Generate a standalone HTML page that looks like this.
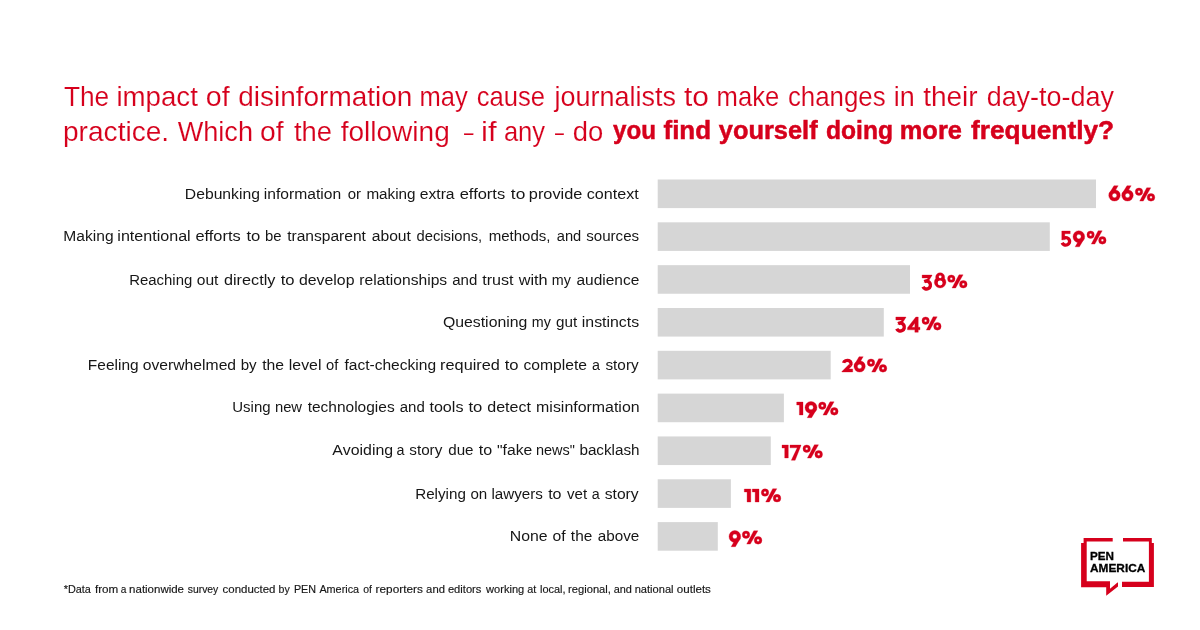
<!DOCTYPE html>
<html><head><meta charset="utf-8"><title>PEN America survey chart</title>
<style>
html,body{margin:0;padding:0;background:#fff;}
body{width:1200px;height:630px;overflow:hidden;font-family:"Liberation Sans",sans-serif;}
svg{display:block;will-change:transform;}
text{font-family:"Liberation Sans",sans-serif;}
.t{fill:#d6001c;}
.tr{stroke:#fff;stroke-width:0.14px;paint-order:fill stroke;}
.tb{stroke:#d6001c;stroke-width:0.5px;}
.l{fill:#161616;font-size:15.4px;}
.f{fill:#161616;font-size:10.9px;stroke:#161616;stroke-width:0.15px;}
.v{fill:#d6001c;font-weight:bold;font-size:20px;stroke:#d6001c;stroke-width:0.7px;}
.g{fill:#000;font-weight:bold;font-size:11.7px;stroke:#000;stroke-width:0.3px;}
</style></head><body>
<svg width="1200" height="630" viewBox="0 0 1200 630">
<rect width="1200" height="630" fill="#ffffff"/>
<g class="t tr" font-size="27.5" font-weight="normal">
<text x="63.91" y="105.8" textLength="45.26" lengthAdjust="spacingAndGlyphs">The</text>
<text x="116.45" y="105.8" textLength="81.45" lengthAdjust="spacingAndGlyphs">impact</text>
<text x="205.80" y="105.8" textLength="23.86" lengthAdjust="spacingAndGlyphs">of</text>
<text x="238.33" y="105.8" textLength="173.99" lengthAdjust="spacingAndGlyphs">disinformation</text>
<text x="419.43" y="105.8" textLength="48.32" lengthAdjust="spacingAndGlyphs">may</text>
<text x="476.71" y="105.8" textLength="68.33" lengthAdjust="spacingAndGlyphs">cause</text>
<text x="554.56" y="105.8" textLength="121.42" lengthAdjust="spacingAndGlyphs">journalists</text>
<text x="684.05" y="105.8" textLength="24.91" lengthAdjust="spacingAndGlyphs">to</text>
<text x="716.60" y="105.8" textLength="62.74" lengthAdjust="spacingAndGlyphs">make</text>
<text x="787.90" y="105.8" textLength="97.73" lengthAdjust="spacingAndGlyphs">changes</text>
<text x="893.80" y="105.8" textLength="20.95" lengthAdjust="spacingAndGlyphs">in</text>
<text x="923.18" y="105.8" textLength="54.49" lengthAdjust="spacingAndGlyphs">their</text>
<text x="986.67" y="105.8" textLength="127.28" lengthAdjust="spacingAndGlyphs">day-to-day</text>
</g>
<g class="t tr" font-size="27.5" font-weight="normal">
<text x="62.99" y="140.7" textLength="106.18" lengthAdjust="spacingAndGlyphs">practice.</text>
<text x="177.68" y="140.7" textLength="75.28" lengthAdjust="spacingAndGlyphs">Which</text>
<text x="260.11" y="140.7" textLength="23.54" lengthAdjust="spacingAndGlyphs">of</text>
<text x="293.89" y="140.7" textLength="38.03" lengthAdjust="spacingAndGlyphs">the</text>
<text x="340.70" y="140.7" textLength="109.10" lengthAdjust="spacingAndGlyphs">following</text>
<text x="464.00" y="140.7" textLength="9.41" lengthAdjust="spacingAndGlyphs">–</text>
<text x="481.10" y="140.7" textLength="15.54" lengthAdjust="spacingAndGlyphs">if</text>
<text x="503.89" y="140.7" textLength="41.24" lengthAdjust="spacingAndGlyphs">any</text>
<text x="555.00" y="140.7" textLength="8.91" lengthAdjust="spacingAndGlyphs">–</text>
<text x="572.85" y="140.7" textLength="30.50" lengthAdjust="spacingAndGlyphs">do</text>
</g>
<g class="t tb" font-size="26" font-weight="bold">
<text x="612.95" y="138.7" textLength="43.00" lengthAdjust="spacingAndGlyphs">you</text>
<text x="663.51" y="138.7" textLength="47.55" lengthAdjust="spacingAndGlyphs">find</text>
<text x="718.75" y="138.7" textLength="98.85" lengthAdjust="spacingAndGlyphs">yourself</text>
<text x="825.94" y="138.7" textLength="67.06" lengthAdjust="spacingAndGlyphs">doing</text>
<text x="899.77" y="138.7" textLength="62.14" lengthAdjust="spacingAndGlyphs">more</text>
<text x="971.00" y="138.7" textLength="143.16" lengthAdjust="spacingAndGlyphs">frequently?</text>
</g>
<rect x="657.7" y="179.50" width="438.3" height="28.6" fill="#d6d6d6"/>
<rect x="657.7" y="222.32" width="392.1" height="28.6" fill="#d6d6d6"/>
<rect x="657.7" y="265.15" width="252.3" height="28.6" fill="#d6d6d6"/>
<rect x="657.7" y="307.98" width="226.1" height="28.6" fill="#d6d6d6"/>
<rect x="657.7" y="350.80" width="173.0" height="28.6" fill="#d6d6d6"/>
<rect x="657.7" y="393.62" width="126.2" height="28.6" fill="#d6d6d6"/>
<rect x="657.7" y="436.45" width="113.1" height="28.6" fill="#d6d6d6"/>
<rect x="657.7" y="479.28" width="73.2" height="28.6" fill="#d6d6d6"/>
<rect x="657.7" y="522.10" width="60.1" height="28.6" fill="#d6d6d6"/>
<g class="l">
<text x="184.86" y="198.8" textLength="75.00" lengthAdjust="spacingAndGlyphs">Debunking</text>
<text x="263.85" y="198.8" textLength="77.26" lengthAdjust="spacingAndGlyphs">information</text>
<text x="347.77" y="198.8" textLength="13.33" lengthAdjust="spacingAndGlyphs">or</text>
<text x="366.39" y="198.8" textLength="49.20" lengthAdjust="spacingAndGlyphs">making</text>
<text x="419.73" y="198.8" textLength="34.87" lengthAdjust="spacingAndGlyphs">extra</text>
<text x="459.70" y="198.8" textLength="45.50" lengthAdjust="spacingAndGlyphs">efforts</text>
<text x="510.89" y="198.8" textLength="14.44" lengthAdjust="spacingAndGlyphs">to</text>
<text x="528.85" y="198.8" textLength="53.48" lengthAdjust="spacingAndGlyphs">provide</text>
<text x="586.71" y="198.8" textLength="52.00" lengthAdjust="spacingAndGlyphs">context</text>
<text x="63.37" y="240.8" textLength="50.23" lengthAdjust="spacingAndGlyphs">Making</text>
<text x="117.32" y="240.8" textLength="73.35" lengthAdjust="spacingAndGlyphs">intentional</text>
<text x="195.45" y="240.8" textLength="45.24" lengthAdjust="spacingAndGlyphs">efforts</text>
<text x="246.40" y="240.8" textLength="13.90" lengthAdjust="spacingAndGlyphs">to</text>
<text x="264.94" y="240.8" textLength="16.57" lengthAdjust="spacingAndGlyphs">be</text>
<text x="287.16" y="240.8" textLength="78.80" lengthAdjust="spacingAndGlyphs">transparent</text>
<text x="371.73" y="240.8" textLength="39.23" lengthAdjust="spacingAndGlyphs">about</text>
<text x="416.53" y="240.8" textLength="65.65" lengthAdjust="spacingAndGlyphs">decisions,</text>
<text x="488.65" y="240.8" textLength="61.80" lengthAdjust="spacingAndGlyphs">methods,</text>
<text x="556.78" y="240.8" textLength="24.52" lengthAdjust="spacingAndGlyphs">and</text>
<text x="586.23" y="240.8" textLength="52.92" lengthAdjust="spacingAndGlyphs">sources</text>
<text x="129.17" y="284.9" textLength="63.14" lengthAdjust="spacingAndGlyphs">Reaching</text>
<text x="196.74" y="284.9" textLength="21.72" lengthAdjust="spacingAndGlyphs">out</text>
<text x="223.97" y="284.9" textLength="51.41" lengthAdjust="spacingAndGlyphs">directly</text>
<text x="280.65" y="284.9" textLength="13.90" lengthAdjust="spacingAndGlyphs">to</text>
<text x="298.98" y="284.9" textLength="55.53" lengthAdjust="spacingAndGlyphs">develop</text>
<text x="359.36" y="284.9" textLength="87.80" lengthAdjust="spacingAndGlyphs">relationships</text>
<text x="452.26" y="284.9" textLength="25.06" lengthAdjust="spacingAndGlyphs">and</text>
<text x="482.16" y="284.9" textLength="31.31" lengthAdjust="spacingAndGlyphs">trust</text>
<text x="518.67" y="284.9" textLength="28.99" lengthAdjust="spacingAndGlyphs">with</text>
<text x="551.87" y="284.9" textLength="19.09" lengthAdjust="spacingAndGlyphs">my</text>
<text x="576.49" y="284.9" textLength="62.80" lengthAdjust="spacingAndGlyphs">audience</text>
<text x="442.90" y="326.8" textLength="84.47" lengthAdjust="spacingAndGlyphs">Questioning</text>
<text x="531.87" y="326.8" textLength="19.09" lengthAdjust="spacingAndGlyphs">my</text>
<text x="556.01" y="326.8" textLength="21.20" lengthAdjust="spacingAndGlyphs">gut</text>
<text x="581.84" y="326.8" textLength="57.34" lengthAdjust="spacingAndGlyphs">instincts</text>
<text x="87.88" y="369.8" textLength="50.72" lengthAdjust="spacingAndGlyphs">Feeling</text>
<text x="142.74" y="369.8" textLength="93.37" lengthAdjust="spacingAndGlyphs">overwhelmed</text>
<text x="240.68" y="369.8" textLength="15.95" lengthAdjust="spacingAndGlyphs">by</text>
<text x="262.16" y="369.8" textLength="21.89" lengthAdjust="spacingAndGlyphs">the</text>
<text x="288.83" y="369.8" textLength="32.58" lengthAdjust="spacingAndGlyphs">level</text>
<text x="326.03" y="369.8" textLength="12.30" lengthAdjust="spacingAndGlyphs">of</text>
<text x="344.43" y="369.8" textLength="91.67" lengthAdjust="spacingAndGlyphs">fact-checking</text>
<text x="440.07" y="369.8" textLength="59.84" lengthAdjust="spacingAndGlyphs">required</text>
<text x="504.65" y="369.8" textLength="13.90" lengthAdjust="spacingAndGlyphs">to</text>
<text x="523.48" y="369.8" textLength="63.56" lengthAdjust="spacingAndGlyphs">complete</text>
<text x="591.99" y="369.8" textLength="7.96" lengthAdjust="spacingAndGlyphs">a</text>
<text x="605.47" y="369.8" textLength="33.16" lengthAdjust="spacingAndGlyphs">story</text>
<text x="232.24" y="411.8" textLength="38.32" lengthAdjust="spacingAndGlyphs">Using</text>
<text x="274.92" y="411.8" textLength="27.15" lengthAdjust="spacingAndGlyphs">new</text>
<text x="307.67" y="411.8" textLength="86.99" lengthAdjust="spacingAndGlyphs">technologies</text>
<text x="399.76" y="411.8" textLength="25.06" lengthAdjust="spacingAndGlyphs">and</text>
<text x="429.41" y="411.8" textLength="34.03" lengthAdjust="spacingAndGlyphs">tools</text>
<text x="468.40" y="411.8" textLength="13.90" lengthAdjust="spacingAndGlyphs">to</text>
<text x="487.23" y="411.8" textLength="43.74" lengthAdjust="spacingAndGlyphs">detect</text>
<text x="536.09" y="411.8" textLength="103.54" lengthAdjust="spacingAndGlyphs">misinformation</text>
<text x="332.37" y="454.8" textLength="60.76" lengthAdjust="spacingAndGlyphs">Avoiding</text>
<text x="396.42" y="454.8" textLength="7.96" lengthAdjust="spacingAndGlyphs">a</text>
<text x="409.28" y="454.8" textLength="33.05" lengthAdjust="spacingAndGlyphs">story</text>
<text x="448.26" y="454.8" textLength="25.31" lengthAdjust="spacingAndGlyphs">due</text>
<text x="478.86" y="454.8" textLength="13.42" lengthAdjust="spacingAndGlyphs">to</text>
<text x="497.03" y="454.8" textLength="35.27" lengthAdjust="spacingAndGlyphs">&quot;fake</text>
<text x="535.94" y="454.8" textLength="38.98" lengthAdjust="spacingAndGlyphs">news&quot;</text>
<text x="579.42" y="454.8" textLength="60.17" lengthAdjust="spacingAndGlyphs">backlash</text>
<text x="415.15" y="498.8" textLength="50.73" lengthAdjust="spacingAndGlyphs">Relying</text>
<text x="470.46" y="498.8" textLength="16.82" lengthAdjust="spacingAndGlyphs">on</text>
<text x="491.38" y="498.8" textLength="51.47" lengthAdjust="spacingAndGlyphs">lawyers</text>
<text x="548.16" y="498.8" textLength="13.42" lengthAdjust="spacingAndGlyphs">to</text>
<text x="567.05" y="498.8" textLength="20.16" lengthAdjust="spacingAndGlyphs">vet</text>
<text x="591.76" y="498.8" textLength="7.96" lengthAdjust="spacingAndGlyphs">a</text>
<text x="604.76" y="498.8" textLength="33.87" lengthAdjust="spacingAndGlyphs">story</text>
<text x="509.80" y="540.7" textLength="37.80" lengthAdjust="spacingAndGlyphs">None</text>
<text x="552.44" y="540.7" textLength="13.14" lengthAdjust="spacingAndGlyphs">of</text>
<text x="570.87" y="540.7" textLength="21.42" lengthAdjust="spacingAndGlyphs">the</text>
<text x="597.75" y="540.7" textLength="41.53" lengthAdjust="spacingAndGlyphs">above</text>
</g>
<g fill="#d6001c" stroke="#d6001c" stroke-width="0.3" role="img" aria-label="66%"><g transform="translate(1108.7 185.7) scale(1.0175 1.0065)"><path d="M0 9.6A5.7 5.7 0 1 1 11.4 9.6A5.7 5.7 0 1 1 0 9.6ZM3.45 9.7A2.25 2.25 0 1 0 7.95 9.7A2.25 2.25 0 1 0 3.45 9.7ZM5.15 0L9.3 0L5 7.2L0.35 8Z"/></g><g transform="translate(1121.7 185.7) scale(1.0175 1.0065)"><path d="M0 9.6A5.7 5.7 0 1 1 11.4 9.6A5.7 5.7 0 1 1 0 9.6ZM3.45 9.7A2.25 2.25 0 1 0 7.95 9.7A2.25 2.25 0 1 0 3.45 9.7ZM5.15 0L9.3 0L5 7.2L0.35 8Z"/></g><g transform="translate(1135 187.8) scale(1.0000 1.0000)"><path d="M0.25 3.87A3.75 3.75 0 1 1 7.75 3.87A3.75 3.75 0 1 1 0.25 3.87ZM2.75 3.87A1.25 1.25 0 1 0 5.25 3.87A1.25 1.25 0 1 0 2.75 3.87ZM12.15 9.5A3.85 3.85 0 1 1 19.85 9.5A3.85 3.85 0 1 1 12.15 9.5ZM14.75 9.5A1.25 1.25 0 1 0 17.25 9.5A1.25 1.25 0 1 0 14.75 9.5ZM11.7 0L15.8 0L8.3 13.3L4.7 13.3Z"/></g></g>
<g fill="#d6001c" stroke="#d6001c" stroke-width="0.3" role="img" aria-label="59%"><g transform="translate(1060.3 231) scale(0.9821 1.0000)"><path d="M1.5 0L10.1 0L10.1 2.75L4.6 2.75L4.6 8.6L1.5 9Z"/><path d="M3.7 7.13A3.95 3.7 0 1 1 1.89 11.79" fill="none" stroke-width="3.45"/></g><g transform="translate(1073 230.7) scale(1.0263 1.0523) rotate(180 5.7 7.65)"><path d="M0 9.6A5.7 5.7 0 1 1 11.4 9.6A5.7 5.7 0 1 1 0 9.6ZM3.45 9.7A2.25 2.25 0 1 0 7.95 9.7A2.25 2.25 0 1 0 3.45 9.7ZM5.15 0L9.3 0L5 7.2L0.35 8Z"/></g><g transform="translate(1086.7 230.8) scale(0.9800 1.0000)"><path d="M0.25 3.87A3.75 3.75 0 1 1 7.75 3.87A3.75 3.75 0 1 1 0.25 3.87ZM2.75 3.87A1.25 1.25 0 1 0 5.25 3.87A1.25 1.25 0 1 0 2.75 3.87ZM12.15 9.5A3.85 3.85 0 1 1 19.85 9.5A3.85 3.85 0 1 1 12.15 9.5ZM14.75 9.5A1.25 1.25 0 1 0 17.25 9.5A1.25 1.25 0 1 0 14.75 9.5ZM11.7 0L15.8 0L8.3 13.3L4.7 13.3Z"/></g></g>
<g fill="#d6001c" stroke="#d6001c" stroke-width="0.3" role="img" aria-label="38%"><g transform="translate(921 275) scale(0.9737 0.9937)"><path d="M1.14 0L11.3 0L11.3 0.4L6.9 7.3L3 7.3L7.24 3.05L1.14 3.05Z"/><path d="M3.58 6.71A4 4 0 1 1 2.07 11.79" fill="none" stroke-width="3.5"/></g><g transform="translate(934.3 272.7) scale(1.0086 0.9935)"><path d="M1.3 4.5A4.5 4.5 0 1 1 10.3 4.5A4.5 4.5 0 1 1 1.3 4.5ZM0 9.6A5.8 5.8 0 1 1 11.6 9.6A5.8 5.8 0 1 1 0 9.6Z"/><path d="M4.4 4.2A1.4 1.4 0 1 1 7.2 4.2A1.4 1.4 0 1 1 4.4 4.2ZM3.35 10.35A2.45 2.45 0 1 1 8.25 10.35A2.45 2.45 0 1 1 3.35 10.35Z" fill="#fff" stroke="none"/></g><g transform="translate(947.3 274.8) scale(1.0000 0.9925)"><path d="M0.25 3.87A3.75 3.75 0 1 1 7.75 3.87A3.75 3.75 0 1 1 0.25 3.87ZM2.75 3.87A1.25 1.25 0 1 0 5.25 3.87A1.25 1.25 0 1 0 2.75 3.87ZM12.15 9.5A3.85 3.85 0 1 1 19.85 9.5A3.85 3.85 0 1 1 12.15 9.5ZM14.75 9.5A1.25 1.25 0 1 0 17.25 9.5A1.25 1.25 0 1 0 14.75 9.5ZM11.7 0L15.8 0L8.3 13.3L4.7 13.3Z"/></g></g>
<g fill="#d6001c" stroke="#d6001c" stroke-width="0.3" role="img" aria-label="34%"><g transform="translate(894.7 317) scale(0.9912 0.9937)"><path d="M1.14 0L11.3 0L11.3 0.4L6.9 7.3L3 7.3L7.24 3.05L1.14 3.05Z"/><path d="M3.58 6.71A4 4 0 1 1 2.07 11.79" fill="none" stroke-width="3.5"/></g><g transform="translate(907.5 317) scale(0.9921 0.9935)"><path d="M8.4 0L10.85 0L10.85 10.3L12.6 10.3L12.6 12.95L10.85 12.95L10.85 15.4L7.4 15.4L7.4 12.95L0 12.95L0 10.7ZM7.4 6.3L4.3 10.3L7.4 10.3Z"/></g><g transform="translate(921.7 316.8) scale(0.9800 1.0000)"><path d="M0.25 3.87A3.75 3.75 0 1 1 7.75 3.87A3.75 3.75 0 1 1 0.25 3.87ZM2.75 3.87A1.25 1.25 0 1 0 5.25 3.87A1.25 1.25 0 1 0 2.75 3.87ZM12.15 9.5A3.85 3.85 0 1 1 19.85 9.5A3.85 3.85 0 1 1 12.15 9.5ZM14.75 9.5A1.25 1.25 0 1 0 17.25 9.5A1.25 1.25 0 1 0 14.75 9.5ZM11.7 0L15.8 0L8.3 13.3L4.7 13.3Z"/></g></g>
<g fill="#d6001c" stroke="#d6001c" stroke-width="0.3" role="img" aria-label="26%"><g transform="translate(841.9 358.7) scale(1.0093 1.0114)"><path d="M7.19 5.44L9.33 7.68L6.94 10.1L10.7 10.1L10.7 13.15L0 13.15L0 12.73Z"/><path d="M1.71 4.09A3.7 2.95 0 1 1 8.18 6.5" fill="none" stroke-width="3.3"/></g><g transform="translate(853.9 356.7) scale(1.0000 1.0065)"><path d="M0 9.6A5.7 5.7 0 1 1 11.4 9.6A5.7 5.7 0 1 1 0 9.6ZM3.45 9.7A2.25 2.25 0 1 0 7.95 9.7A2.25 2.25 0 1 0 3.45 9.7ZM5.15 0L9.3 0L5 7.2L0.35 8Z"/></g><g transform="translate(867 358.8) scale(1.0000 1.0000)"><path d="M0.25 3.87A3.75 3.75 0 1 1 7.75 3.87A3.75 3.75 0 1 1 0.25 3.87ZM2.75 3.87A1.25 1.25 0 1 0 5.25 3.87A1.25 1.25 0 1 0 2.75 3.87ZM12.15 9.5A3.85 3.85 0 1 1 19.85 9.5A3.85 3.85 0 1 1 12.15 9.5ZM14.75 9.5A1.25 1.25 0 1 0 17.25 9.5A1.25 1.25 0 1 0 14.75 9.5ZM11.7 0L15.8 0L8.3 13.3L4.7 13.3Z"/></g></g>
<g fill="#d6001c" stroke="#d6001c" stroke-width="0.3" role="img" aria-label="19%"><g transform="translate(796.7 402) scale(1.0000 0.9886)"><path d="M0 0L6.3 0L6.3 13.15L2.7 13.15L2.7 3.05L0 3.05Z"/></g><g transform="translate(805 401.5) scale(1.0526 1.0588) rotate(180 5.7 7.65)"><path d="M0 9.6A5.7 5.7 0 1 1 11.4 9.6A5.7 5.7 0 1 1 0 9.6ZM3.45 9.7A2.25 2.25 0 1 0 7.95 9.7A2.25 2.25 0 1 0 3.45 9.7ZM5.15 0L9.3 0L5 7.2L0.35 8Z"/></g><g transform="translate(818.3 401.8) scale(1.0000 1.0000)"><path d="M0.25 3.87A3.75 3.75 0 1 1 7.75 3.87A3.75 3.75 0 1 1 0.25 3.87ZM2.75 3.87A1.25 1.25 0 1 0 5.25 3.87A1.25 1.25 0 1 0 2.75 3.87ZM12.15 9.5A3.85 3.85 0 1 1 19.85 9.5A3.85 3.85 0 1 1 12.15 9.5ZM14.75 9.5A1.25 1.25 0 1 0 17.25 9.5A1.25 1.25 0 1 0 14.75 9.5ZM11.7 0L15.8 0L8.3 13.3L4.7 13.3Z"/></g></g>
<g fill="#d6001c" stroke="#d6001c" stroke-width="0.3" role="img" aria-label="17%"><g transform="translate(782 445) scale(1.0000 0.9886)"><path d="M0 0L6.3 0L6.3 13.15L2.7 13.15L2.7 3.05L0 3.05Z"/></g><g transform="translate(790 445) scale(0.9955 0.9935)"><path d="M0 0L11.05 0L11.05 0.4L5.15 15.4L1.3 15.4L7.24 2.86L0 2.86Z"/></g><g transform="translate(802.7 444.8) scale(1.0000 1.0000)"><path d="M0.25 3.87A3.75 3.75 0 1 1 7.75 3.87A3.75 3.75 0 1 1 0.25 3.87ZM2.75 3.87A1.25 1.25 0 1 0 5.25 3.87A1.25 1.25 0 1 0 2.75 3.87ZM12.15 9.5A3.85 3.85 0 1 1 19.85 9.5A3.85 3.85 0 1 1 12.15 9.5ZM14.75 9.5A1.25 1.25 0 1 0 17.25 9.5A1.25 1.25 0 1 0 14.75 9.5ZM11.7 0L15.8 0L8.3 13.3L4.7 13.3Z"/></g></g>
<g fill="#d6001c" stroke="#d6001c" stroke-width="0.3" role="img" aria-label="11%"><g transform="translate(744.3 489) scale(1.0317 0.9886)"><path d="M0 0L6.3 0L6.3 13.15L2.7 13.15L2.7 3.05L0 3.05Z"/></g><g transform="translate(752.3 489) scale(1.0635 0.9886)"><path d="M0 0L6.3 0L6.3 13.15L2.7 13.15L2.7 3.05L0 3.05Z"/></g><g transform="translate(761 488.7) scale(1.0000 1.0000)"><path d="M0.25 3.87A3.75 3.75 0 1 1 7.75 3.87A3.75 3.75 0 1 1 0.25 3.87ZM2.75 3.87A1.25 1.25 0 1 0 5.25 3.87A1.25 1.25 0 1 0 2.75 3.87ZM12.15 9.5A3.85 3.85 0 1 1 19.85 9.5A3.85 3.85 0 1 1 12.15 9.5ZM14.75 9.5A1.25 1.25 0 1 0 17.25 9.5A1.25 1.25 0 1 0 14.75 9.5ZM11.7 0L15.8 0L8.3 13.3L4.7 13.3Z"/></g></g>
<g fill="#d6001c" stroke="#d6001c" stroke-width="0.3" role="img" aria-label="9%"><g transform="translate(729 530.5) scale(1.0263 1.0588) rotate(180 5.7 7.65)"><path d="M0 9.6A5.7 5.7 0 1 1 11.4 9.6A5.7 5.7 0 1 1 0 9.6ZM3.45 9.7A2.25 2.25 0 1 0 7.95 9.7A2.25 2.25 0 1 0 3.45 9.7ZM5.15 0L9.3 0L5 7.2L0.35 8Z"/></g><g transform="translate(742 530.8) scale(1.0050 1.0000)"><path d="M0.25 3.87A3.75 3.75 0 1 1 7.75 3.87A3.75 3.75 0 1 1 0.25 3.87ZM2.75 3.87A1.25 1.25 0 1 0 5.25 3.87A1.25 1.25 0 1 0 2.75 3.87ZM12.15 9.5A3.85 3.85 0 1 1 19.85 9.5A3.85 3.85 0 1 1 12.15 9.5ZM14.75 9.5A1.25 1.25 0 1 0 17.25 9.5A1.25 1.25 0 1 0 14.75 9.5ZM11.7 0L15.8 0L8.3 13.3L4.7 13.3Z"/></g></g>
<g class="f">
<text x="63.72" y="592.9" textLength="27.18" lengthAdjust="spacingAndGlyphs">*Data</text>
<text x="94.93" y="592.9" textLength="23.33" lengthAdjust="spacingAndGlyphs">from</text>
<text x="120.74" y="592.9" textLength="5.64" lengthAdjust="spacingAndGlyphs">a</text>
<text x="129.14" y="592.9" textLength="54.87" lengthAdjust="spacingAndGlyphs">nationwide</text>
<text x="187.71" y="592.9" textLength="30.61" lengthAdjust="spacingAndGlyphs">survey</text>
<text x="222.61" y="592.9" textLength="52.82" lengthAdjust="spacingAndGlyphs">conducted</text>
<text x="278.52" y="592.9" textLength="11.20" lengthAdjust="spacingAndGlyphs">by</text>
<text x="293.92" y="592.9" textLength="22.16" lengthAdjust="spacingAndGlyphs">PEN</text>
<text x="319.38" y="592.9" textLength="39.72" lengthAdjust="spacingAndGlyphs">America</text>
<text x="363.16" y="592.9" textLength="8.72" lengthAdjust="spacingAndGlyphs">of</text>
<text x="375.62" y="592.9" textLength="47.21" lengthAdjust="spacingAndGlyphs">reporters</text>
<text x="426.12" y="592.9" textLength="18.81" lengthAdjust="spacingAndGlyphs">and</text>
<text x="447.93" y="592.9" textLength="33.48" lengthAdjust="spacingAndGlyphs">editors</text>
<text x="486.12" y="592.9" textLength="38.10" lengthAdjust="spacingAndGlyphs">working</text>
<text x="527.24" y="592.9" textLength="9.04" lengthAdjust="spacingAndGlyphs">at</text>
<text x="539.96" y="592.9" textLength="25.63" lengthAdjust="spacingAndGlyphs">local,</text>
<text x="568.06" y="592.9" textLength="42.85" lengthAdjust="spacingAndGlyphs">regional,</text>
<text x="613.64" y="592.9" textLength="18.17" lengthAdjust="spacingAndGlyphs">and</text>
<text x="634.66" y="592.9" textLength="38.88" lengthAdjust="spacingAndGlyphs">national</text>
<text x="676.81" y="592.9" textLength="34.10" lengthAdjust="spacingAndGlyphs">outlets</text>
</g>
<path fill="#d6001c" d="M1083.6 538H1112.7V541.6H1086.7V581.3H1110V588.7L1117.5 582.6H1118V586.5L1106.2 595.8V587.2H1081.1V543H1083.6Z"/>
<path fill="#d6001c" d="M1123 538H1151.8V543H1153.9V587.1H1122V581.8H1148.9V541.6H1123Z"/>
<text class="g" x="1090" y="559.7" textLength="24" lengthAdjust="spacingAndGlyphs">PEN</text>
<text class="g" x="1090" y="571.9" textLength="55.3" lengthAdjust="spacingAndGlyphs">AMERICA</text>
</svg>
</body></html>
